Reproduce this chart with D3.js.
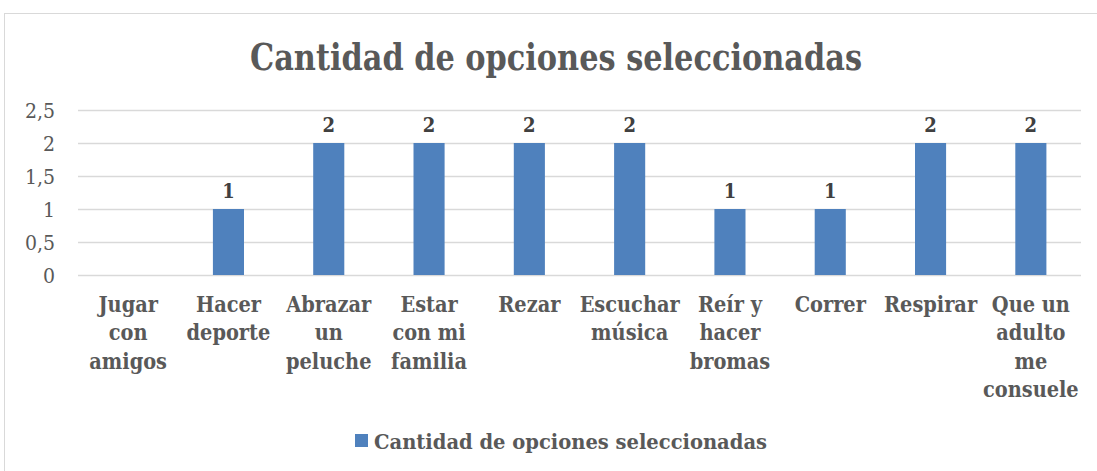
<!DOCTYPE html>
<html>
<head>
<meta charset="utf-8">
<script src="https://cdn.jsdelivr.net/npm/d3@7"></script>
<style>
  html, body { margin: 0; padding: 0; background: #fff; }
  svg { display: block; }
  text { font-family: "DejaVu Serif Condensed", "DejaVu Serif", serif; }
</style>
</head>
<body>
<svg id="chart" width="1097" height="471"></svg>
<script>
// Data
const categories = [
  ["Jugar", "con", "amigos"],
  ["Hacer", "deporte"],
  ["Abrazar", "un", "peluche"],
  ["Estar", "con mi", "familia"],
  ["Rezar"],
  ["Escuchar", "música"],
  ["Reír y", "hacer", "bromas"],
  ["Correr"],
  ["Respirar"],
  ["Que un", "adulto", "me", "consuele"]
];
const values = [null, 1, 2, 2, 2, 2, 1, 1, 2, 2];
const yTicks = [0, 0.5, 1, 1.5, 2, 2.5];
const seriesName = "Cantidad de opciones seleccionadas";
const titleText = "Cantidad de opciones seleccionadas";

const svg = d3.select("#chart");
const W = 1097, H = 471;
const textColor = "#595959";

// Chart area border
svg.append("rect")
  .attr("x", 4.5).attr("y", 13.5)
  .attr("width", W + 10).attr("height", H + 10)
  .attr("fill", "#fff").attr("stroke", "#d9d9d9").attr("stroke-width", 1);

// Title
svg.append("text")
  .attr("x", 556).attr("y", 70)
  .attr("text-anchor", "middle")
  .attr("font-size", 37).attr("font-weight", "bold")
  .attr("fill", textColor)
  .attr("textLength", 612).attr("lengthAdjust", "spacingAndGlyphs")
  .text(titleText);

const plot = { left: 78, right: 1081, top: 110, bottom: 275 };

const x = d3.scaleBand()
  .domain(d3.range(categories.length))
  .range([plot.left, plot.right])
  .paddingInner(0.69).paddingOuter(0.345);

const y = d3.scaleLinear().domain([0, 2.5]).range([plot.bottom, plot.top]);

// Gridlines
svg.append("g")
  .selectAll("line")
  .data(yTicks)
  .join("line")
  .attr("x1", plot.left).attr("x2", plot.right)
  .attr("y1", d => Math.round(y(d)) + 0.5).attr("y2", d => Math.round(y(d)) + 0.5)
  .attr("stroke", "#d9d9d9").attr("stroke-width", 1.5);

// Y axis labels
const fmt = d => String(d).replace(".", ",");
const yAxis = d3.axisLeft(y).tickValues(yTicks).tickFormat(fmt).tickSize(0).tickPadding(0);
const gy = svg.append("g").attr("transform", `translate(55,0)`).call(yAxis);
gy.select(".domain").remove();
gy.selectAll("text")
  .attr("font-size", 21).attr("fill", textColor)
  .attr("font-family", "DejaVu Serif Condensed, DejaVu Serif, serif")
  .attr("dy", "0.35em");

// Bars
svg.append("g")
  .selectAll("rect")
  .data(values.map((v, i) => ({ v, i })).filter(d => d.v !== null && d.v > 0))
  .join("rect")
  .attr("x", d => x(d.i))
  .attr("y", d => y(d.v))
  .attr("width", x.bandwidth())
  .attr("height", d => y(0) - y(d.v))
  .attr("fill", "#4f81bd");

// Value labels
svg.append("g")
  .selectAll("text")
  .data(values.map((v, i) => ({ v, i })).filter(d => d.v !== null && d.v > 0))
  .join("text")
  .attr("x", d => x(d.i) + x.bandwidth() / 2)
  .attr("y", d => y(d.v) - 11)
  .attr("text-anchor", "middle")
  .attr("font-size", 20).attr("font-weight", "bold")
  .attr("fill", "#404040")
  .text(d => fmt(d.v));

// Category labels
const catG = svg.append("g");
categories.forEach((lines, i) => {
  const cx = x(i) + x.bandwidth() / 2;
  const t = catG.append("text")
    .attr("x", cx).attr("y", 312)
    .attr("text-anchor", "middle")
    .attr("font-size", 21.5).attr("font-weight", "bold")
    .attr("fill", textColor);
  lines.forEach((ln, j) => {
    t.append("tspan").attr("x", cx).attr("y", 312 + j * 28.3).text(ln);
  });
});

// Legend
const lg = svg.append("g");
lg.append("rect")
  .attr("x", 355).attr("y", 434).attr("width", 13).attr("height", 13)
  .attr("fill", "#4f81bd");
lg.append("text")
  .attr("x", 374).attr("y", 449)
  .attr("font-size", 20).attr("font-weight", "bold")
  .attr("fill", textColor)
  .attr("textLength", 393).attr("lengthAdjust", "spacingAndGlyphs")
  .text(seriesName);
</script>
</body>
</html>
